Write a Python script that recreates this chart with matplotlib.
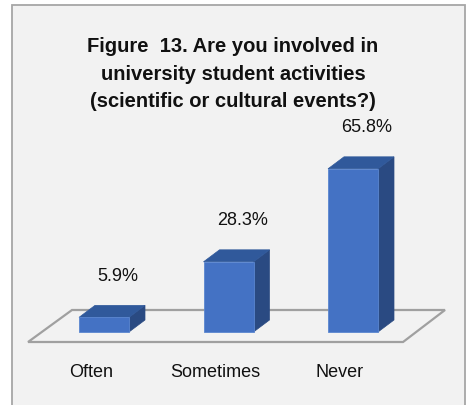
import matplotlib
matplotlib.use("Agg")
import matplotlib.pyplot as plt
from matplotlib.patches import Polygon, Rectangle

categories = ["Often", "Sometimes", "Never"]
values = [5.9, 28.3, 65.8]
value_labels = ["5.9%", "28.3%", "65.8%"]
title = "Figure  13. Are you involved in\nuniversity student activities\n(scientific or cultural events?)"

W, H, DPI = 469, 406, 100
fig = plt.figure(figsize=(W / DPI, H / DPI), dpi=DPI)
fig.patch.set_facecolor("white")

# chart frame
frame = Rectangle((12 / W, -0.05), 453 / W, (H - 6) / H + 0.05,
                  transform=fig.transFigure, facecolor="#f2f2f2",
                  edgecolor="#a6a6a6", linewidth=1.3, zorder=-1)
fig.patches.append(frame)

ax = fig.add_axes([0, 0, 1, 1])
ax.set_facecolor("none")
ax.set_zorder(1)
# x in category units, y in percent
px_per_cat = 124.5
px_per_pct = 2.48
x0_px, y0_px = 104, 333
ax.set_xlim(-x0_px / px_per_cat, (W - x0_px) / px_per_cat)
ax.set_ylim(-(H - y0_px) / px_per_pct, y0_px / px_per_pct)
ax.axis("off")

bar_w = 50 / px_per_cat
ddx = 16 / px_per_cat
ddy = 12 / px_per_pct

# floor
fy0, fy1 = -10 / px_per_pct, 22 / px_per_pct
floor = Polygon([(-0.610, fy0), (2.402, fy0), (2.739, fy1), (-0.257, fy1)],
                closed=True, facecolor="none", edgecolor="#a0a0a0",
                linewidth=1.6, zorder=1)
ax.add_patch(floor)

front_c = "#4472c4"
top_c = "#30599b"
side_c = "#2a4a82"
for i, (v, lab) in enumerate(zip(values, value_labels)):
    xl, xr = i - bar_w / 2, i + bar_w / 2
    ax.add_patch(Polygon([(xr, 0), (xr + ddx, ddy), (xr + ddx, v + ddy), (xr, v)],
                         closed=True, facecolor=side_c, edgecolor=side_c,
                         linewidth=0.5, zorder=2))
    ax.add_patch(Polygon([(xl, v), (xr, v), (xr + ddx, v + ddy), (xl + ddx, v + ddy)],
                         closed=True, facecolor=top_c, edgecolor=top_c,
                         linewidth=0.5, zorder=2))
    ax.add_patch(Rectangle((xl, 0), bar_w, v, facecolor=front_c,
                           edgecolor="#5a86d0", linewidth=0.6, zorder=3))
    ax.text(i + 0.11, v + ddy + 30 / px_per_pct, lab, ha="center", va="center",
            fontsize=13, family="Liberation Sans", color="#111111")
    ax.text(i - 0.105, -40 / px_per_pct, categories[i], ha="center", va="center",
            fontsize=13, family="Liberation Sans", color="#111111")

fig.text(233 / W, 1 - 74 / H, title, ha="center", va="center",
         fontsize=14.5, fontweight="bold", family="Liberation Sans",
         color="#111111", linespacing=1.55)

fig.savefig("out.png", dpi=DPI)
